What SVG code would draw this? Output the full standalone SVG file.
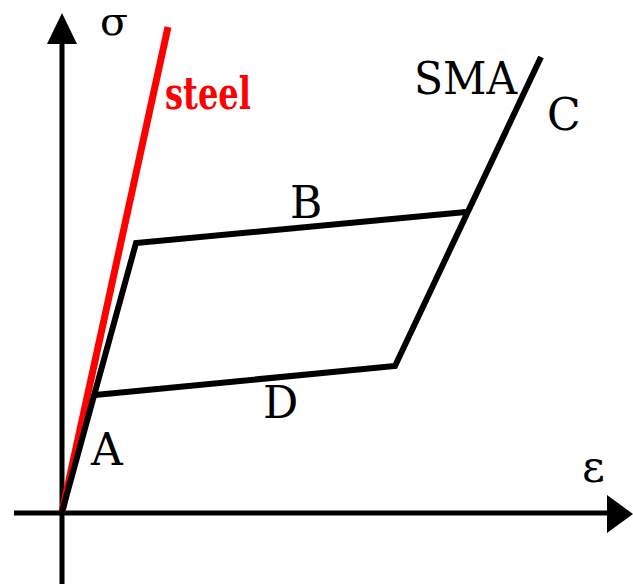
<svg xmlns="http://www.w3.org/2000/svg" width="633" height="584" viewBox="0 0 633 584">
<style>
.ax{stroke:#000;stroke-width:5;fill:none}
.ah{fill:#000}
.sma{stroke:#000;stroke-width:6;fill:none;stroke-linejoin:miter}
.st{stroke:#f00;stroke-width:7;fill:none}
text{font-family:'DejaVu Serif',serif}
.lbl{font-size:44px;fill:#000}
.red{font-size:44px;font-weight:bold;fill:#f00}
</style>
<rect width="633" height="584" fill="#fff"/>
<g id="axes">
<line class="ax" x1="62" y1="584" x2="62" y2="40"/>
<polygon class="ah" points="62,13 47,44 77,44"/>
<line class="ax" x1="14" y1="513" x2="610" y2="513"/>
<polygon class="ah" points="633,514 607,495 607,533"/>
<text class="lbl" x="100" y="35" style="font-size:40px" textLength="28" lengthAdjust="spacingAndGlyphs">σ</text>
<text class="lbl" x="582" y="482">ε</text>
</g>
<g id="connectors">
<line id="steel-line" class="st" x1="62" y1="512" x2="168" y2="27"/>
<polyline id="sma-loop" class="sma" points="62,512 136,243 466,212"/>
<polyline id="sma-lower" class="sma" points="95,395 395,366 541,57"/>
</g>
<g id="steel"><text class="red" x="165" y="109" textLength="86" lengthAdjust="spacingAndGlyphs">steel</text></g>
<g id="SMA"><text class="lbl" x="414" y="94" textLength="103" lengthAdjust="spacingAndGlyphs">SMA</text></g>
<g id="A"><text class="lbl" x="91" y="465">A</text></g>
<g id="B"><text class="lbl" x="290" y="218">B</text></g>
<g id="C"><text class="lbl" x="547" y="130">C</text></g>
<g id="D"><text class="lbl" x="263" y="418">D</text></g>
</svg>
